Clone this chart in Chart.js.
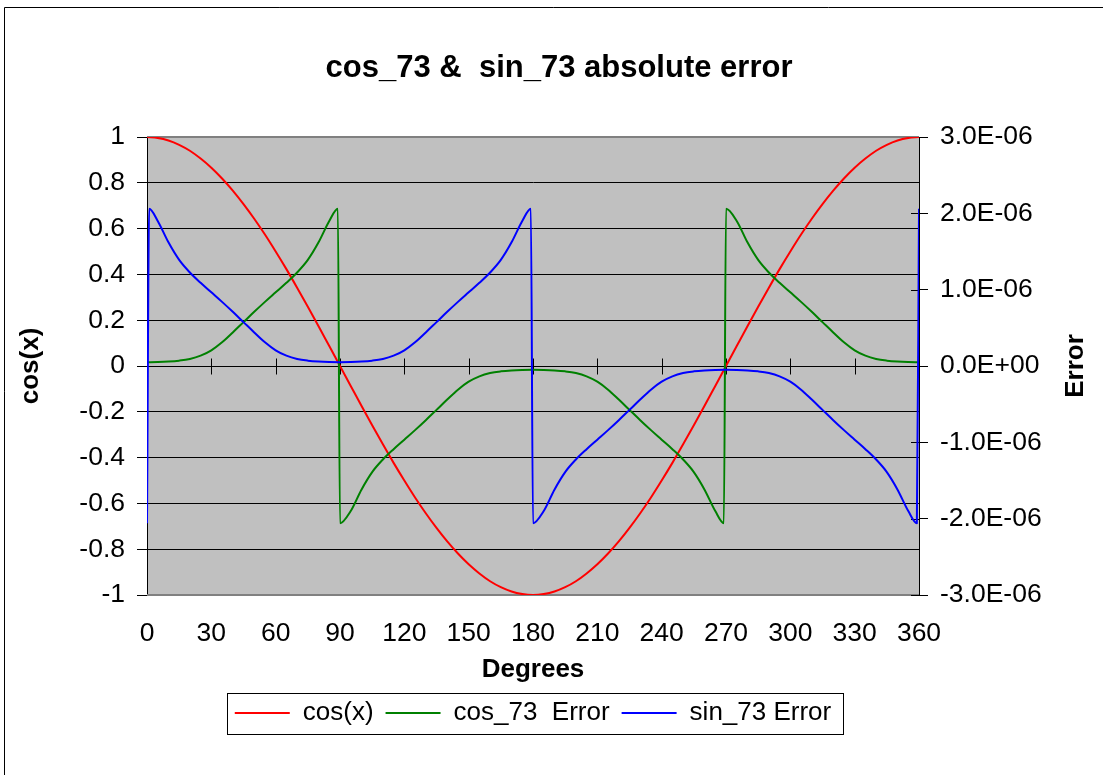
<!DOCTYPE html>
<html>
<head>
<meta charset="utf-8">
<script src="https://cdn.jsdelivr.net/npm/chart.js@4.4.1/dist/chart.umd.min.js"></script>
<style>
html,body{margin:0;padding:0;background:#fff;}
#wrap{position:relative;width:1103px;height:775px;}
</style>
</head>
<body>
<div id="wrap"><canvas id="c"></canvas></div>
<script>
// ---------- texts ----------
const chartTitle = 'cos_73 &  sin_73 absolute error';
const xAxisTitle = 'Degrees';
const yAxisTitle = 'cos(x)';
const y2AxisTitle = 'Error';
const seriesNames = ['cos(x)', 'cos_73  Error', 'sin_73 Error'];

// ---------- ticks ----------
const xTickValues = [0, 30, 60, 90, 120, 150, 180, 210, 240, 270, 300, 330, 360];
const xTickLabels = ['0', '30', '60', '90', '120', '150', '180', '210', '240', '270', '300', '330', '360'];
const leftTickValues = [-1, -0.8, -0.6, -0.4, -0.2, 0, 0.2, 0.4, 0.6, 0.8, 1];
const leftTickLabels = ['-1', '-0.8', '-0.6', '-0.4', '-0.2', '0', '0.2', '0.4', '0.6', '0.8', '1'];
const rightTickValues = [-3e-6, -2e-6, -1e-6, 0, 1e-6, 2e-6, 3e-6];
const rightTickLabels = ['-3.0E-06', '-2.0E-06', '-1.0E-06', '0.0E+00', '1.0E-06', '2.0E-06', '3.0E-06'];

// ---------- series: cos(x) (left axis) ----------
const cosDeg = [0,5,10,15,20,25,30,35,40,45,50,55,60,65,70,75,80,85,90,
  95,100,105,110,115,120,125,130,135,140,145,150,155,160,165,170,175,180,
  185,190,195,200,205,210,215,220,225,230,235,240,245,250,255,260,265,270,
  275,280,285,290,295,300,305,310,315,320,325,330,335,340,345,350,355,360];
const cosVal = [1.000,0.996,0.985,0.966,0.940,0.906,0.866,0.819,0.766,0.707,0.643,0.574,0.500,0.423,0.342,0.259,0.174,0.087,0.000,
  -0.087,-0.174,-0.259,-0.342,-0.423,-0.500,-0.574,-0.643,-0.707,-0.766,-0.819,-0.866,-0.906,-0.940,-0.966,-0.985,-0.996,-1.000,
  -0.996,-0.985,-0.966,-0.940,-0.906,-0.866,-0.819,-0.766,-0.707,-0.643,-0.574,-0.500,-0.423,-0.342,-0.259,-0.174,-0.087,0.000,
  0.087,0.174,0.259,0.342,0.423,0.500,0.574,0.643,0.707,0.766,0.819,0.866,0.906,0.940,0.966,0.985,0.996,1.000];

// ---------- series: cos_73 error (right axis) ----------
const cosErrDeg = [0,5,10,15,20,25,30,35,40,45,50,55,60,65,70,75,80,85,89,
  90,95,100,105,110,115,120,125,130,135,140,145,150,155,160,165,170,175,180,
  185,190,195,200,205,210,215,220,225,230,235,240,245,250,255,260,265,269,
  270,275,280,285,290,295,300,305,310,315,320,325,330,335,340,345,350,355,360];
const cosErrVal = [0.050e-6,0.052e-6,0.058e-6,0.070e-6,0.092e-6,0.135e-6,0.205e-6,0.310e-6,0.440e-6,0.575e-6,0.710e-6,0.840e-6,0.965e-6,1.090e-6,1.225e-6,1.390e-6,1.620e-6,1.900e-6,2.060e-6,
  -2.060e-6,-1.900e-6,-1.620e-6,-1.390e-6,-1.225e-6,-1.090e-6,-0.965e-6,-0.840e-6,-0.710e-6,-0.575e-6,-0.440e-6,-0.310e-6,-0.205e-6,-0.135e-6,-0.092e-6,-0.070e-6,-0.058e-6,-0.052e-6,-0.050e-6,
  -0.052e-6,-0.058e-6,-0.070e-6,-0.092e-6,-0.135e-6,-0.205e-6,-0.310e-6,-0.440e-6,-0.575e-6,-0.710e-6,-0.840e-6,-0.965e-6,-1.090e-6,-1.225e-6,-1.390e-6,-1.620e-6,-1.900e-6,-2.060e-6,
  2.060e-6,1.900e-6,1.620e-6,1.390e-6,1.225e-6,1.090e-6,0.965e-6,0.840e-6,0.710e-6,0.575e-6,0.440e-6,0.310e-6,0.205e-6,0.135e-6,0.092e-6,0.070e-6,0.058e-6,0.052e-6,0.050e-6];

// ---------- series: sin_73 error (right axis) ----------
const sinErrDeg = [0,1,5,10,15,20,25,30,35,40,45,50,55,60,65,70,75,80,85,90,
  95,100,105,110,115,120,125,130,135,140,145,150,155,160,165,170,175,179,
  180,185,190,195,200,205,210,215,220,225,230,235,240,245,250,255,260,265,270,
  275,280,285,290,295,300,305,310,315,320,325,330,335,340,345,350,355,359,360];
const sinErrVal = [-2.060e-6,2.060e-6,1.900e-6,1.620e-6,1.390e-6,1.225e-6,1.090e-6,0.965e-6,0.840e-6,0.710e-6,0.575e-6,0.440e-6,0.310e-6,0.205e-6,0.135e-6,0.092e-6,0.070e-6,0.058e-6,0.052e-6,0.050e-6,
  0.052e-6,0.058e-6,0.070e-6,0.092e-6,0.135e-6,0.205e-6,0.310e-6,0.440e-6,0.575e-6,0.710e-6,0.840e-6,0.965e-6,1.090e-6,1.225e-6,1.390e-6,1.620e-6,1.900e-6,2.060e-6,
  -2.060e-6,-1.900e-6,-1.620e-6,-1.390e-6,-1.225e-6,-1.090e-6,-0.965e-6,-0.840e-6,-0.710e-6,-0.575e-6,-0.440e-6,-0.310e-6,-0.205e-6,-0.135e-6,-0.092e-6,-0.070e-6,-0.058e-6,-0.052e-6,-0.050e-6,
  -0.052e-6,-0.058e-6,-0.070e-6,-0.092e-6,-0.135e-6,-0.205e-6,-0.310e-6,-0.440e-6,-0.575e-6,-0.710e-6,-0.840e-6,-0.965e-6,-1.090e-6,-1.225e-6,-1.390e-6,-1.620e-6,-1.900e-6,-2.060e-6,2.060e-6];

const seriesColors = ['#FF0000', '#008000', '#0000FF'];

// ---------- build ----------
const pts = (xs, ys) => xs.map((x, i) => ({x: x, y: ys[i]}));
const FONT = 'Liberation Sans, Arial, sans-serif';

const decor = {
  id: 'decor',
  beforeDraw(chart) {
    const {ctx, chartArea: a, width, height} = chart;
    ctx.save();
    ctx.fillStyle = '#FFFFFF';
    ctx.fillRect(0, 0, width, height);
    ctx.strokeStyle = '#000000';
    ctx.lineWidth = 1;
    ctx.beginPath();
    ctx.moveTo(4.5, height);
    ctx.lineTo(4.5, 7.5);
    ctx.lineTo(width, 7.5);
    ctx.stroke();
    ctx.fillStyle = '#C0C0C0';
    ctx.fillRect(a.left, a.top, a.right - a.left, a.bottom - a.top);
    ctx.restore();
  },
  beforeDatasetsDraw(chart) {
    const {ctx, chartArea: a, scales} = chart;
    ctx.save();
    ctx.strokeStyle = '#808080';
    ctx.lineWidth = 2;
    ctx.beginPath();
    ctx.moveTo(a.left, a.top); ctx.lineTo(a.right, a.top);
    ctx.moveTo(a.left, a.bottom); ctx.lineTo(a.right, a.bottom);
    ctx.stroke();
    ctx.strokeStyle = '#000000';
    ctx.lineWidth = 1;
    ctx.beginPath();
    const y0 = Math.round(scales.y.getPixelForValue(0)) + 0.5;
    scales.x.ticks.forEach(t => {
      const px = Math.round(scales.x.getPixelForValue(t.value)) + 0.5;
      ctx.moveTo(px, y0 - 8); ctx.lineTo(px, y0 + 8);
    });
    scales.y2.ticks.forEach(t => {
      const py = Math.round(scales.y2.getPixelForValue(t.value)) + 0.5;
      ctx.moveTo(a.right - 8, py); ctx.lineTo(a.right, py);
    });
    ctx.stroke();
    ctx.restore();
  },
  afterDraw(chart) {
    const {ctx, scales, legend} = chart;
    ctx.save();
    // right axis title, rotated to read upwards
    ctx.font = 'bold 26px ' + FONT;
    ctx.fillStyle = '#000000';
    ctx.textAlign = 'center';
    ctx.textBaseline = 'middle';
    ctx.translate(scales.y2.right - 27, (scales.y2.top + scales.y2.bottom) / 2);
    ctx.rotate(-Math.PI / 2);
    ctx.fillText(y2AxisTitle, 0, 0);
    ctx.restore();
    // legend frame
    const hb = legend.legendHitBoxes;
    if (hb && hb.length) {
      const l = hb[0].left - 8;
      const r = hb[hb.length - 1].left + hb[hb.length - 1].width + 12;
      const cy = hb[0].top + hb[0].height / 2;
      ctx.save();
      ctx.strokeStyle = '#000000';
      ctx.lineWidth = 1;
      ctx.strokeRect(Math.round(l) + 0.5, Math.round(cy - 20.5) + 0.5, Math.round(r - l), 41);
      ctx.restore();
    }
  }
};

Chart.defaults.font.family = FONT;
Chart.defaults.color = '#000000';

new Chart(document.getElementById('c'), {
  type: 'line',
  data: {
    datasets: [
      {label: seriesNames[0], data: pts(cosDeg, cosVal), yAxisID: 'y', borderColor: seriesColors[0], backgroundColor: seriesColors[0], order: 2},
      {label: seriesNames[1], data: pts(cosErrDeg, cosErrVal), yAxisID: 'y2', borderColor: seriesColors[1], backgroundColor: seriesColors[1], order: 1},
      {label: seriesNames[2], data: pts(sinErrDeg, sinErrVal), yAxisID: 'y2', borderColor: seriesColors[2], backgroundColor: seriesColors[2], order: 0}
    ]
  },
  options: {
    responsive: true,
    maintainAspectRatio: false,
    animation: false,
    layout: {padding: {left: 15, right: 0, top: 0, bottom: 39}},
    elements: {
      point: {radius: 0, hoverRadius: 0},
      line: {borderWidth: 2, cubicInterpolationMode: 'monotone', borderJoinStyle: 'round', fill: false}
    },
    plugins: {
      tooltip: {enabled: false},
      title: {
        display: true,
        text: chartTitle,
        font: {size: 31, weight: 'bold', family: FONT},
        color: '#000000',
        padding: {top: 49.4, bottom: 50.4}
      },
      legend: {
        position: 'bottom',
        fullSize: false,
        labels: {
          font: {size: 26, family: FONT},
          color: '#000000',
          boxWidth: 55,
          boxHeight: 2,
          padding: 12,
          sort: (a, b) => a.datasetIndex - b.datasetIndex,
          generateLabels: (chart) => Chart.defaults.plugins.legend.labels.generateLabels(chart).map(it => Object.assign(it, {lineWidth: 0}))
        }
      }
    },
    scales: {
      x: {
        type: 'linear',
        position: 'bottom',
        min: 0, max: 360,
        afterBuildTicks: s => { s.ticks = xTickValues.map(v => ({value: v})); },
        afterFit: s => { s.height = 93; },
        ticks: {
          callback: (v, i) => xTickLabels[i],
          font: {size: 26.5, family: FONT},
          color: '#000000',
          padding: 23,
          maxRotation: 0,
          autoSkip: false
        },
        grid: {display: false, drawTicks: false},
        border: {display: false},
        title: {display: true, text: xAxisTitle, font: {size: 26, weight: 'bold', family: FONT}, color: '#000000', padding: {top: 0, bottom: 2.4}}
      },
      y: {
        type: 'linear',
        position: 'left',
        min: -1, max: 1,
        afterBuildTicks: s => { s.ticks = leftTickValues.map(v => ({value: v})); },
        afterFit: s => { s.width = 132; },
        ticks: {
          callback: (v, i) => leftTickLabels[i],
          font: {size: 26.5, family: FONT},
          color: '#000000',
          padding: 12,
          autoSkip: false
        },
        grid: {color: '#000000', lineWidth: 1, tickLength: 10, drawTicks: true},
        border: {display: true, color: '#000000', width: 1},
        title: {display: true, text: yAxisTitle, font: {size: 26, weight: 'bold', family: FONT}, color: '#000000', padding: {top: 0, bottom: 0}}
      },
      y2: {
        type: 'linear',
        position: 'right',
        min: -3e-6, max: 3e-6,
        afterBuildTicks: s => { s.ticks = rightTickValues.map(v => ({value: v})); },
        afterFit: s => { s.width = 184; },
        ticks: {
          callback: (v, i) => rightTickLabels[i],
          font: {size: 26.5, family: FONT},
          color: '#000000',
          padding: 12,
          autoSkip: false
        },
        grid: {drawOnChartArea: false, color: '#000000', lineWidth: 1, tickLength: 9},
        border: {display: true, color: '#000000', width: 1},
        title: {display: false}
      }
    }
  },
  plugins: [decor]
});
</script>
</body>
</html>
